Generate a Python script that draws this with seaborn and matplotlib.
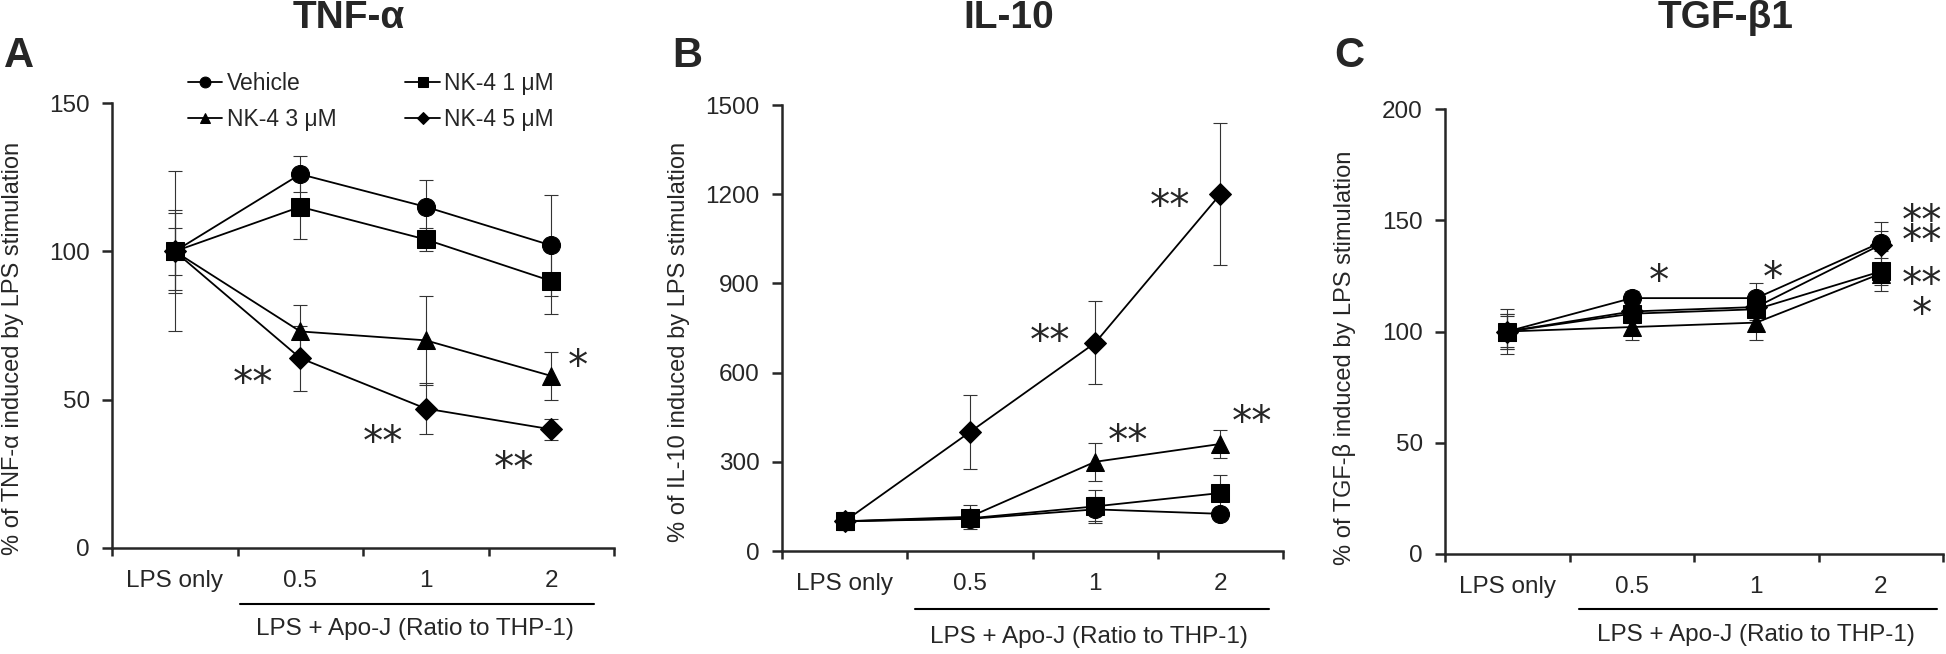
import matplotlib
matplotlib.use("Agg")
import matplotlib.pyplot as plt
import matplotlib.transforms as mtransforms
import seaborn as sns
import pandas as pd
import numpy as np

categories = ["LPS only", "0.5", "1", "2"]
series = ["Vehicle", "NK-4 1 μM", "NK-4 3 μM", "NK-4 5 μM"]

# TNF-alpha
tnf_vehicle = [100, 126, 115, 102]
tnf_nk1 = [100, 115, 104, 90]
tnf_nk3 = [100, 73, 70, 58]
tnf_nk5 = [100, 64, 47, 40]
tnf_vehicle_err = [14, 6, 9, 17]
tnf_nk1_err = [13, 11, 4, 11]
tnf_nk3_err = [27, 9, 15, 8]
tnf_nk5_err = [8, 11, 8.5, 3.5]

# IL-10
il10_vehicle = [100, 108, 140, 125]
il10_nk1 = [100, 110, 150, 195]
il10_nk3 = [100, 115, 300, 360]
il10_nk5 = [100, 400, 700, 1200]
il10_vehicle_err = [30, 20, 40, 15]
il10_nk1_err = [25, 25, 55, 60]
il10_nk3_err = [20, 40, 63, 48]
il10_nk5_err = [25, 125, 140, 238]

# TGF-beta1
tgf_vehicle = [100, 115, 115, 140]
tgf_nk1 = [100, 108, 110, 127]
tgf_nk3 = [100, 102, 104, 126]
tgf_nk5 = [100, 109, 111, 139]
tgf_vehicle_err = [10, 3, 7, 9]
tgf_nk1_err = [8, 4, 5, 9]
tgf_nk3_err = [7, 6, 8, 5]
tgf_nk5_err = [8, 4, 5, 6]

# significance marks: (x index, y value at last-line glyph centre, text, line spacing)
tnf_sig = [(0.62, 59, "**", 1.0), (1.66, 38.8, "**", 1.0), (2.70, 30.3, "**", 1.0), (3.21, 64.7, "*", 1.0)]
il10_sig = [(2.60, 1194, "**", 1.0), (1.64, 740, "**", 1.0), (2.26, 403, "**", 1.0), (3.25, 466, "**", 1.0)]
tgf_sig = [(1.22, 127, "*", 1.0), (2.13, 128.5, "*", 1.0), (3.33, 145, "**\n**", 0.36),
           (3.33, 112, "**\n*", 0.69)]

sns.set_style("ticks")
plt.rcParams['font.family'] = ['Liberation Sans', 'DejaVu Sans']

markers = {"Vehicle": "o", "NK-4 1 μM": "s", "NK-4 3 μM": "^", "NK-4 5 μM": "D"}
palette = {s: "black" for s in series}

W, H = 1946, 654
fig = plt.figure(figsize=(W / 100, H / 100), dpi=100)

def frac_rect(l, r, t, b):
    return [l / W, 1 - b / H, (r - l) / W, (b - t) / H]

panels = [
    dict(rect=frac_rect(112, 614, 103, 548), vals=[tnf_vehicle, tnf_nk1, tnf_nk3, tnf_nk5],
         errs=[tnf_vehicle_err, tnf_nk1_err, tnf_nk3_err, tnf_nk5_err], ylim=150, yticks=[0, 50, 100, 150],
         ylabel="% of TNF-α induced by LPS stimulation", sig=tnf_sig, title="TNF-α", letter="A",
         title_xy=(349, 18), letter_xy=(19, 56), ylab=(-0.175, 0.449), br_y=-0.126, br=(0.52, 3.34),
         bt=(1.91, -0.182)),
    dict(rect=frac_rect(782, 1283, 105, 551), vals=[il10_vehicle, il10_nk1, il10_nk3, il10_nk5],
         errs=[il10_vehicle_err, il10_nk1_err, il10_nk3_err, il10_nk5_err], ylim=1500,
         yticks=[0, 300, 600, 900, 1200, 1500],
         ylabel="% of IL-10 induced by LPS stimulation", sig=il10_sig, title="IL-10", letter="B",
         title_xy=(1009, 18), letter_xy=(687, 56), ylab=(-0.184, 0.469), br_y=-0.130, br=(0.56, 3.39),
         bt=(1.95, -0.193)),
    dict(rect=frac_rect(1445, 1943, 109, 554), vals=[tgf_vehicle, tgf_nk1, tgf_nk3, tgf_nk5],
         errs=[tgf_vehicle_err, tgf_nk1_err, tgf_nk3_err, tgf_nk5_err], ylim=200,
         yticks=[0, 50, 100, 150, 200],
         ylabel="% of TGF-β induced by LPS stimulation", sig=tgf_sig, title="TGF-β1", letter="C",
         title_xy=(1726, 18), letter_xy=(1349, 56), ylab=(-0.179, 0.44), br_y=-0.124, br=(0.58, 3.45),
         bt=(2.0, -0.182)),
]

xs = np.arange(len(categories))
legend_handles = None
SIG_FS = 29
for i, p in enumerate(panels):
    ax = fig.add_axes(p["rect"])
    rows = []
    for s, v in zip(series, p["vals"]):
        for x, y in zip(xs, v):
            rows.append(dict(x=x, y=y, series=s))
    df = pd.DataFrame(rows)
    for s, v, e in zip(series, p["vals"], p["errs"]):
        ax.errorbar(xs, v, yerr=e, fmt="none", ecolor="#333333", elinewidth=0.8, capsize=5,
                    capthick=0.8, zorder=1)
    sns.lineplot(data=df, x="x", y="y", hue="series", style="series", markers=markers,
                 dashes=False, palette=palette, markersize=13, markeredgecolor="black",
                 linewidth=1.3, ax=ax, sort=False, errorbar=None, legend=(i == 0), zorder=3)
    for ln in ax.lines:
        if ln.get_marker() == "D":
            ln.set_markersize(11)
    if i == 0:
        h, l = ax.get_legend_handles_labels()
        ax.get_legend().remove()
        legend_handles = dict(zip(l, h))
    ax.set_xlim(-0.5, 3.5)
    ax.set_ylim(0, p["ylim"])
    ax.set_yticks(p["yticks"])
    ax.set_xticks([-0.5, 0.5, 1.5, 2.5, 3.5])
    ax.set_xticklabels([])
    ax.set_xticks(xs, minor=True)
    ax.set_xticklabels(categories, minor=True)
    ax.tick_params(axis="x", which="major", length=6, width=1.8, direction="out")
    ax.tick_params(axis="x", which="minor", length=0, pad=16, labelsize=17.5)
    ax.tick_params(axis="y", length=7, width=1.8, direction="out", pad=9, labelsize=17.5)
    for sp in ["top", "right"]:
        ax.spines[sp].set_visible(False)
    for sp in ["left", "bottom"]:
        ax.spines[sp].set_linewidth(1.8)
    ax.set_xlabel("")
    ax.set_ylabel(p["ylabel"], fontsize=17)
    ax.yaxis.set_label_coords(*p["ylab"])
    sig_tr = mtransforms.offset_copy(ax.transData, fig=fig, y=-0.56 * SIG_FS, units="points")
    for (x, y, t, ls) in p["sig"]:
        ax.text(x, y, t, fontsize=SIG_FS, ha="center", va="baseline", zorder=5,
                family="DejaVu Sans", transform=sig_tr, linespacing=ls, multialignment="center")
    tr = ax.get_xaxis_transform()
    ax.plot(list(p["br"]), [p["br_y"], p["br_y"]], color="black", lw=1.5, transform=tr, clip_on=False)
    ax.text(p["bt"][0], p["bt"][1], "LPS + Apo-J (Ratio to THP-1)", transform=tr, ha="center",
            va="center", fontsize=17.5)
    fig.text(p["title_xy"][0] / W, 1 - p["title_xy"][1] / H, p["title"], ha="center", va="center",
             fontsize=28, fontweight="bold")
    fig.text(p["letter_xy"][0] / W, 1 - p["letter_xy"][1] / H, p["letter"], ha="center", va="center",
             fontsize=30, fontweight="bold")

order = ["Vehicle", "NK-4 3 μM", "NK-4 1 μM", "NK-4 5 μM"]
fig.legend([legend_handles[k] for k in order], order, ncol=2, loc="upper left",
           bbox_to_anchor=(188 / W, 1 - 72 / H), frameon=False, fontsize=16.5,
           handlelength=1.5, handletextpad=0.2, columnspacing=3.0, labelspacing=0.55,
           markerscale=0.6, borderpad=0, borderaxespad=0)

fig.savefig("out.png", dpi=100)
